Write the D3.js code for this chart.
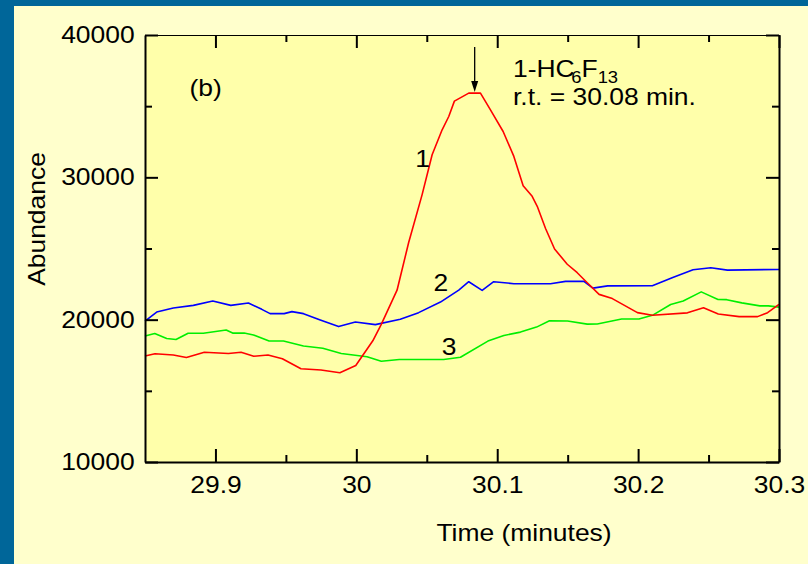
<!DOCTYPE html>
<meta charset="utf-8">
<head>
    <title>Abundance vs time</title>
    <script src="https://cdn.jsdelivr.net/npm/d3@7"></script>
</head>

<style>
    body { margin: 0; }
    svg { display: block; font-family: "Liberation Sans", Arial, sans-serif; }
    .trace { fill: none; stroke-width: 1.6; stroke-linejoin: round; }
    .axis path, .axis line { stroke: #000; stroke-width: 2; }
    .axis text { font-size: 23px; fill: #000; }
    .note { font-size: 23px; fill: #000; }
</style>

<svg></svg>

<script>
    // page + plot box
    var vWidth = 808, vHeight = 564;
    var plotLeft = 145, plotRight = 779, plotTop = 35, plotBottom = 462;
    var stretch = 'scale(1.15,1)'; // the original lettering is wide

    // trace 1 (red)
    var time1 = [29.85, 29.8571, 29.8701, 29.8794, 29.8921, 29.9092, 29.9182, 29.9272, 29.9373, 29.9475,
        29.9607, 29.9749, 29.9883, 29.9996, 30.0117, 30.0177, 30.0289, 30.0371, 30.0467, 30.0538,
        30.0609, 30.0656, 30.0696, 30.0798, 30.0881, 30.0952, 30.1042, 30.1118, 30.1184, 30.1248,
        30.1284, 30.1343, 30.1407, 30.1497, 30.1568, 30.1639, 30.1723, 30.1817, 30.1995, 30.2101,
        30.2350, 30.2464, 30.2569, 30.2717, 30.2848, 30.2919, 30.30];
    var abund1 = [17452, 17606, 17522, 17340, 17711, 17627, 17711, 17431, 17522, 17249,
        16548, 16464, 16275, 16779, 18517, 19674, 22071, 25400, 28786, 31589,
        33341, 34274, 35353, 35914, 35914, 34743, 33222, 31470, 29416, 28666,
        27966, 26403, 24966, 23893, 23298, 22597, 21777, 21482, 20494, 20305,
        20480, 20830, 20403, 20214, 20214, 20494, 21076];

    // trace 2 (blue)
    var time2 = [29.85, 29.8583, 29.8701, 29.8843, 29.8981, 29.9109, 29.9234, 29.9329, 29.9388, 29.9488,
        29.9543, 29.9625, 29.9744, 29.9874, 29.9993, 30.0135, 30.0312, 30.0442, 30.0597, 30.0727,
        30.0798, 30.0893, 30.0975, 30.1118, 30.1378, 30.1485, 30.1615, 30.1679, 30.1784, 30.2101,
        30.2246, 30.2390, 30.2516, 30.2634, 30.30];
    var abund2 = [19905, 20536, 20816, 21006, 21307, 21006, 21167, 20725, 20424, 20424,
        20564, 20424, 19975, 19513, 19835, 19653, 20024, 20494, 21237, 22078,
        22667, 22057, 22667, 22527, 22527, 22688, 22688, 22218, 22372, 22386,
        22968, 23508, 23648, 23480, 23529];

    // trace 3 (green)
    var time3 = [29.85, 29.8569, 29.8654, 29.8720, 29.8806, 29.8914, 29.9076, 29.9122, 29.9204, 29.9270,
        29.9381, 29.9483, 29.9625, 29.9762, 29.9893, 30.0076, 30.0177, 30.0305, 30.0620, 30.0739,
        30.0934, 30.1047, 30.1165, 30.1279, 30.1371, 30.1499, 30.1639, 30.1710, 30.1883, 30.2006,
        30.2107, 30.2231, 30.2320, 30.2448, 30.2567, 30.2629, 30.2736, 30.2864, 30.2924, 30.30];
    var abund3 = [18854, 19029, 18679, 18602, 19043, 19043, 19274, 19057, 19057, 18924,
        18503, 18503, 18153, 17992, 17627, 17396, 17081, 17200, 17200, 17361,
        18496, 18889, 19127, 19478, 19919, 19905, 19688, 19695, 20045, 20045,
        20333, 21062, 21314, 21952, 21412, 21405, 21181, 20971, 20971, 20880];

    // axes
    var xDomain = [29.85, 30.3];
    var yDomain = [10000, 40000];
    var xMajor = [29.9, 30, 30.1, 30.2, 30.3];
    var xMinor = [29.95, 30.05, 30.15, 30.25];
    var yMajor = [10000, 20000, 30000, 40000];
    var yMinor = [15000, 25000, 35000];

    // annotations (data coordinates)
    var traceNames = ['1', '2', '3'];
    var traceColors = ['#ff0000', '#0000ff', '#00ee00'];
    var traceLabelAt = [[30.0418, 30727], [30.0548, 22008], [30.0607, 17501]];
    var panelTag = '(b)', panelTagAt = [29.8815, 35724];
    var peakTime = 30.084, arrowFrom = 39150, arrowTo = 36000;
    var titleAt = [30.1112, 37056], rtAt = [30.1112, 35094];
    var rtText = 'r.t. = 30.08 min.';

    var svg = d3.select('svg')
        .attr('width', vWidth)
        .attr('height', vHeight);

    svg.append('rect').attr('width', vWidth).attr('height', vHeight).attr('fill', '#006699');
    svg.append('rect').attr('x', 14).attr('y', 6)
        .attr('width', vWidth - 14).attr('height', vHeight - 6).attr('fill', '#ffffcc');
    svg.append('rect').attr('x', plotLeft).attr('y', plotTop)
        .attr('width', plotRight - plotLeft).attr('height', plotBottom - plotTop).attr('fill', '#ffffaa');

    var x = d3.scaleLinear().domain(xDomain).range([plotLeft, plotRight]);
    var y = d3.scaleLinear().domain(yDomain).range([plotBottom, plotTop]);
    var fmt = function (d) { return String(+d.toFixed(2)); };

    // traces
    var line = d3.line()
        .x(function (d) { return x(d[0]); })
        .y(function (d) { return y(d[1]); });
    var series = [d3.zip(time1, abund1), d3.zip(time2, abund2), d3.zip(time3, abund3)];
    // draw 3, 2, 1 so red stays on top
    [2, 1, 0].forEach(function (i) {
        svg.append('path').attr('class', 'trace')
            .attr('stroke', traceColors[i])
            .attr('d', line(series[i]));
    });

    // axes: major ticks with labels, minor ticks without, all pointing inward
    function addAxis(axis, tx, ty, major, minor, labels, thin) {
        var g = svg.append('g').attr('class', 'axis')
            .attr('transform', 'translate(' + tx + ',' + ty + ')');
        g.call(axis.tickValues(major).tickSize(-13).tickSizeOuter(0)
            .tickFormat(labels ? fmt : '').tickPadding(labels === 'y' ? 9 : 15));
        if (thin) g.select('.domain').style('stroke-width', 1);
        g.selectAll('text').attr('transform', stretch);
        var m = svg.append('g').attr('class', 'axis')
            .attr('transform', 'translate(' + tx + ',' + ty + ')');
        m.call(axis.tickValues(minor).tickSize(-7).tickFormat(''));
        m.select('.domain').remove();
    }
    addAxis(d3.axisBottom(x), 0, plotBottom, xMajor, xMinor, 'x');
    addAxis(d3.axisTop(x), 0, plotTop, xMajor, xMinor, null, true);
    addAxis(d3.axisLeft(y), plotLeft, 0, yMajor, yMinor, 'y');
    addAxis(d3.axisRight(y), plotRight, 0, yMajor, yMinor, null);

    // axis titles
    svg.append('text').attr('class', 'note')
        .attr('transform', 'translate(' + ((plotLeft + plotRight) / 2 + 62) + ',541) ' + stretch)
        .attr('text-anchor', 'middle').text('Time (minutes)');
    svg.append('text').attr('class', 'note')
        .attr('transform', 'translate(45,' + 219 + ') rotate(-90) ' + stretch)
        .attr('text-anchor', 'middle').text('Abundance');

    // trace numbers
    traceNames.forEach(function (n, i) {
        svg.append('text').attr('class', 'note')
            .attr('transform', 'translate(' + x(traceLabelAt[i][0]) + ',' + y(traceLabelAt[i][1]) + ') ' + stretch)
            .text(n);
    });

    svg.append('text').attr('class', 'note')
        .attr('transform', 'translate(' + x(panelTagAt[0]) + ',' + y(panelTagAt[1]) + ') ' + stretch)
        .text(panelTag);

    // compound name with subscripts
    var title = svg.append('text').attr('class', 'note')
        .attr('transform', 'translate(' + x(titleAt[0]) + ',' + y(titleAt[1]) + ') ' + stretch);
    title.append('tspan').text('1-HC');
    title.append('tspan').attr('font-size', '16px').attr('dx', -3).attr('dy', 6).text('6');
    title.append('tspan').attr('dy', -6).text('F');
    title.append('tspan').attr('font-size', '16px').attr('dy', 6).text('13');

    svg.append('text').attr('class', 'note')
        .attr('transform', 'translate(' + x(rtAt[0]) + ',' + y(rtAt[1]) + ') ' + stretch)
        .text(rtText);

    // arrow over the peak
    var ax = x(peakTime);
    svg.append('line')
        .attr('x1', ax).attr('x2', ax)
        .attr('y1', y(arrowFrom)).attr('y2', y(arrowTo) - 8)
        .attr('stroke', '#000').attr('stroke-width', 1.3);
    svg.append('path')
        .attr('d', 'M' + (ax - 3.5) + ',' + (y(arrowTo) - 11) + 'L' + (ax + 3.5) + ',' + (y(arrowTo) - 11) +
            'L' + ax + ',' + y(arrowTo) + 'Z')
        .attr('fill', '#000');
</script>
